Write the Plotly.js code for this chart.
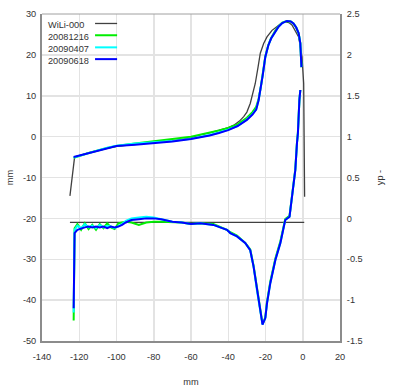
<!DOCTYPE html>
<html>
<head>
<meta charset="utf-8">
<script src="https://cdn.plot.ly/plotly-3.0.1.min.js"></script>
<style>html,body{margin:0;padding:0;background:#fff;}#chart{width:400px;height:391px;}</style>
</head>
<body>
<div id="chart"></div>
<script>
// ---- Series names & colours ----
const seriesNames = ["WiLi-000", "20081216", "20090407", "20090618"];
const seriesColors = ["#404040", "#00ee00", "#00ffff", "#0000ff"];

// ---- Upper profiles (left axis, mm) ----
const profX_wili = [-125, -122.5, -115, -105, -100, -90, -80, -70, -60, -55, -50, -45, -40, -37, -34, -31.7, -30, -28.2, -26.5, -25.5, -24, -22.8, -21, -19.2, -16.5, -13.8, -11.5, -9.4, -7.5, -5.8, -4, -2.2, -0.4, 0.5, 1.0];
const profY_wili = [-14.5, -5.0, -4.0, -2.8, -2.4, -1.9, -1.5, -1.0, -0.3, 0.4, 0.9, 1.5, 2.2, 2.8, 3.8, 4.9, 6.0, 8.1, 11.0, 13.0, 17.0, 20.4, 22.8, 24.4, 26.0, 26.9, 27.7, 28.1, 27.9, 27.3, 26.0, 24.4, 19.5, 13.0, -14.7];

const profX_a = [-123, -115, -105, -100, -90, -80, -70, -60, -55, -50, -45, -40, -35, -30, -27, -25, -23.7, -22.5, -21.5, -20.1, -18.5, -17, -15, -13, -11, -8.5, -6.5, -5, -3.5, -2.2, -1.3, -0.9, -0.7];
const profY_1216 = [-5.2, -4.0, -2.8, -2.3, -1.7, -1.2, -0.6, 0.0, 0.5, 0.9, 1.5, 2.1, 3.0, 4.6, 6.0, 7.3, 9.2, 12.2, 15.2, 19.6, 22.4, 24.1, 25.7, 27.0, 27.9, 28.3, 28.2, 27.7, 26.7, 25.3, 22.8, 19.5, 17.0];
const profY_0407 = [-5.1, -4.0, -2.7, -2.2, -1.7, -1.4, -1.1, -0.5, -0.1, 0.4, 1.0, 1.7, 2.6, 4.2, 5.5, 6.7, 8.9, 12.0, 15.0, 19.5, 22.3, 24.0, 25.6, 26.9, 27.8, 28.3, 28.2, 27.7, 26.7, 25.3, 22.8, 19.5, 17.0];
const profY_0618 = [-5.0, -4.0, -2.8, -2.3, -2.0, -1.6, -1.2, -0.6, -0.2, 0.3, 0.9, 1.6, 2.6, 4.1, 5.4, 6.6, 8.9, 12.0, 15.0, 19.5, 22.3, 24.0, 25.6, 26.9, 27.8, 28.3, 28.2, 27.7, 26.7, 25.3, 22.8, 19.5, 17.0];

// ---- Lower slopes (right axis, yp) ----
const slopeX_wili = [-125, 0.8];
const slopeY_wili = [-0.05, -0.05];

const slopeX = [-123, -122.8, -122.5, -121, -119, -117, -115, -113, -111, -109, -107, -105, -103, -101, -99, -97, -95, -92, -88, -84, -80, -76, -70, -65, -60, -55, -48, -40.7, -38.9, -35.3, -30.9, -28.2, -26.4, -24.6, -22.8, -21.6, -20.1, -19.2, -17.4, -14.7, -12.0, -10.3, -9.4, -7.1, -6.3, -4.9, -4.0, -3.1, -2.6, -1.8, -1.3];
const slopeY_1216 = [-1.25, -0.35, -0.12, -0.07, -0.14, -0.06, -0.13, -0.08, -0.14, -0.07, -0.12, -0.06, -0.11, -0.13, -0.06, -0.05, -0.04, -0.05, -0.08, -0.05, -0.04, -0.04, -0.05, -0.05, -0.07, -0.06, -0.07, -0.14, -0.17, -0.21, -0.30, -0.38, -0.58, -0.86, -1.14, -1.29, -1.21, -1.02, -0.77, -0.49, -0.28, -0.09, -0.01, 0.03, 0.18, 0.45, 0.60, 0.93, 1.05, 1.45, 1.57];
const slopeY_0407 = [-1.15, -0.28, -0.14, -0.09, -0.12, -0.07, -0.11, -0.09, -0.12, -0.08, -0.11, -0.09, -0.10, -0.12, -0.10, -0.07, -0.03, 0.0, 0.01, 0.02, 0.01, -0.01, -0.04, -0.05, -0.07, -0.06, -0.08, -0.14, -0.18, -0.22, -0.30, -0.39, -0.59, -0.88, -1.16, -1.30, -1.22, -1.04, -0.79, -0.51, -0.30, -0.10, -0.02, 0.02, 0.16, 0.43, 0.59, 0.92, 1.04, 1.45, 1.57];
const slopeY_0618 = [-1.10, -0.30, -0.18, -0.14, -0.12, -0.11, -0.10, -0.11, -0.10, -0.11, -0.10, -0.12, -0.10, -0.11, -0.10, -0.08, -0.05, -0.02, -0.01, 0.0, 0.0, -0.01, -0.04, -0.05, -0.07, -0.06, -0.08, -0.14, -0.18, -0.22, -0.30, -0.39, -0.59, -0.88, -1.16, -1.30, -1.22, -1.04, -0.79, -0.51, -0.30, -0.10, -0.02, 0.02, 0.16, 0.43, 0.59, 0.92, 1.04, 1.45, 1.57];

// ---- Axis ticks ----
const xTicks = [-140, -120, -100, -80, -60, -40, -20, 0, 20];
const yTicks = [-50, -40, -30, -20, -10, 0, 10, 20, 30];
const y2Ticks = [-1.5, -1, -0.5, 0, 0.5, 1, 1.5, 2, 2.5];

const widths = [1.3, 2, 2, 2];
function tr(x, y, i, axis) {
  return {x: x, y: y, type: 'scatter', mode: 'lines', yaxis: axis,
    line: {color: seriesColors[i], width: widths[i]}, showlegend: false, hoverinfo: 'skip'};
}
const data = [
  tr(profX_wili, profY_wili, 0, 'y'),
  tr(slopeX_wili, slopeY_wili, 0, 'y2'),
  tr(profX_a, profY_1216, 1, 'y'),
  tr(slopeX, slopeY_1216, 1, 'y2'),
  tr(profX_a, profY_0407, 2, 'y'),
  tr(slopeX, slopeY_0407, 2, 'y2'),
  tr(profX_a, profY_0618, 3, 'y'),
  tr(slopeX, slopeY_0618, 3, 'y2')
];

const font = {family: 'Liberation Sans, Arial, sans-serif', size: 9.2, color: '#333'};
// custom legend: text then line sample
const shapes = [{type: 'rect', xref: 'paper', yref: 'paper', x0: 0.003, x1: 0.255, y0: 0.842, y1: 0.997,
  fillcolor: '#fff', line: {width: 0}, layer: 'between'}];
const annotations = [];
const legY = [0.966, 0.930, 0.893, 0.857];
seriesNames.forEach((n, i) => {
  annotations.push({xref: 'paper', yref: 'paper', x: 0.013, y: legY[i], text: n, showarrow: false,
    xanchor: 'left', yanchor: 'middle', font: font});
  shapes.push({type: 'line', xref: 'paper', yref: 'paper', x0: 0.178, x1: 0.252, y0: legY[i] + 0.005, y1: legY[i] + 0.005,
    line: {color: seriesColors[i], width: widths[i]}, layer: 'above'});
});

const layout = {
  width: 400, height: 391,
  margin: {l: 42, r: 60, t: 14, b: 50},
  paper_bgcolor: '#fff', plot_bgcolor: '#fff',
  font: font,
  showlegend: false,
  xaxis: {range: [-140, 20], tickvals: xTicks, ticktext: xTicks.map(String), showgrid: true, gridcolor: '#e3e3e3', gridwidth: 1.5,
    zeroline: false, showline: true, linecolor: '#8c8c8c', linewidth: 2, ticks: '', ticklen: 0, ticklabelstandoff: 6,
    title: {text: 'mm', font: font, standoff: 18}, tickfont: font},
  yaxis: {range: [-50, 30], tickvals: yTicks, ticktext: yTicks.map(String), showgrid: true, gridcolor: '#e3e3e3', gridwidth: 1.5,
    zeroline: false, showline: true, linecolor: '#8c8c8c', linewidth: 2, ticks: '', ticklen: 0, ticklabelstandoff: 2,
    title: {text: 'mm', font: font, standoff: 8}, tickfont: font},
  yaxis2: {range: [-1.5, 2.5], tickvals: y2Ticks, ticktext: y2Ticks.map(String), overlaying: 'y', side: 'right', showgrid: false,
    zeroline: false, showline: true, linecolor: '#8c8c8c', linewidth: 2, ticks: '', ticklen: 0, ticklabelstandoff: 3,
    title: {text: 'yp -', font: font, standoff: 15}, tickfont: font},
  shapes: shapes.concat([{type: 'line', xref: 'paper', yref: 'paper', x0: 0, x1: 1, y0: 1, y1: 1,
    line: {color: '#a0a0a0', width: 1}, layer: 'above'}]),
  annotations: annotations
};

Plotly.newPlot('chart', data, layout, {staticPlot: true, displayModeBar: false});
</script>
</body>
</html>
